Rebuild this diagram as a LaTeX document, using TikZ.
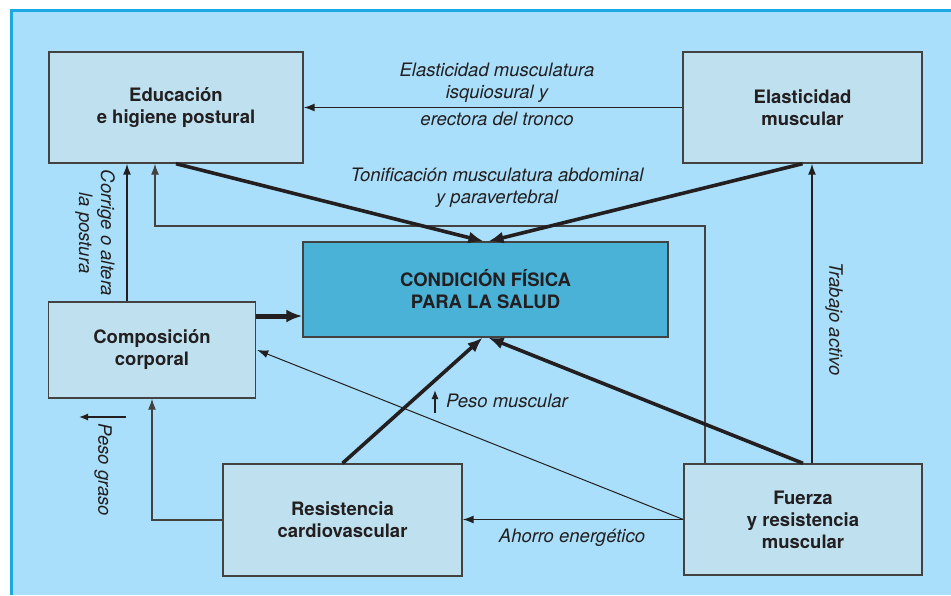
\documentclass[tikz,border=0pt]{standalone}
\usepackage{fontspec}
\setmainfont{TeX Gyre Heros}
\usetikzlibrary{arrows.meta, positioning, calc}
\definecolor{fondo}{HTML}{A9DFFA}
\definecolor{marco}{HTML}{1CA9E3}
\definecolor{cajafill}{HTML}{BEE0EF}
\definecolor{centrofill}{HTML}{4AB1D7}
\definecolor{tinta}{HTML}{231F20}

\begin{document}
\begin{tikzpicture}[x=1pt, y=-1pt,
    every node/.style={font=\fontsize{18.5}{22}\selectfont, text=tinta},
    caja/.style={rectangle, draw=tinta!85, line width=1.4pt, fill=cajafill, align=center,
        inner sep=0pt, font=\fontsize{18.5}{22}\selectfont\bfseries},
    etiq/.style={font=\fontsize{18.5}{22}\selectfont\itshape, align=center, inner sep=0pt},
    fina/.style={draw=tinta, line width=1.5pt, -{Latex[length=11pt,width=8pt]}},
    gruesa/.style={draw=tinta, line width=3.6pt, -{Latex[length=15pt,width=12pt]}},
    linea/.style={draw=tinta!85, line width=1.3pt}]
    \useasboundingbox (0,0) rectangle (951,595);
    % 背景和边框
    \fill[fondo] (12,10) rectangle (951,595);
    \draw[marco, line width=3pt] (11.5,595) -- (11.5,10.5) -- (951,10.5);

    % 六个框框
    \node[caja, minimum width=254pt, minimum height=111pt] (edu) at (176,107.5) {Educación\\e higiene postural};
    \node[caja, minimum width=239pt, minimum height=111pt] (elas) at (802.5,107.5) {Elasticidad\\muscular};
    \node[caja, fill=centrofill, minimum width=365pt, minimum height=95pt] (cond) at (485.5,289.5) {CONDICIÓN FÍSICA\\PARA LA SALUD};
    \node[caja, minimum width=207pt, minimum height=96pt] (comp) at (152,350) {Composición\\corporal};
    \node[caja, minimum width=239pt, minimum height=112pt] (resi) at (342.5,520) {Resistencia\\cardiovascular};
    \node[caja, minimum width=238pt, minimum height=111pt] (fuer) at (803,519.5) {Fuerza\\y resistencia\\muscular};

    % 细箭头
    \draw[fina] (elas.west) -- (edu.east);
    \draw[fina] ([xshift=-25pt]comp.north) -- ([xshift=-25pt]comp.north |- edu.south);
    \draw[fina] ([xshift=9pt]fuer.north) -- ([xshift=9pt]fuer.north |- elas.south);
    \draw[fina] (fuer.west) -- (fuer.west -| resi.east);
    \draw[fina, line width=1pt] (fuer.west) -- ([xshift=1pt]comp.east);
    \draw[fina, linea] (resi.west) -| (comp.south);
    \coordinate (lazo) at (155,226);
    \draw[fina, linea] ([xshift=-98pt]fuer.north) |- (lazo) -- (lazo |- edu.south);

    % 粗箭头
    \draw[gruesa] (edu.south) -- ([xshift=-2pt]cond.north);
    \draw[gruesa] (elas.south) -- ([xshift=3pt]cond.north);
    \draw[gruesa] (resi.north) -- ([xshift=-3pt]cond.south);
    \draw[gruesa] (fuer.north) -- ([xshift=3pt]cond.south);
    \draw[gruesa, line width=5pt, -{Latex[length=16pt,width=13pt]}] ([yshift=34pt]comp.east) -- ([yshift=34pt]comp.east -| cond.west);

    % 标注
    \node[etiq] (l1) at (497,83) {Elasticidad musculatura\\isquiosural y};
    \node[etiq] (l2) at (497,119) {erectora del tronco};
    \node[etiq] (l3) at (497,188) {Tonificación musculatura abdominal\\y paravertebral};
    \node[etiq, rotate=-90] (l4) at (95,233) {Corrige o altera\\la postura};
    \node[etiq, rotate=-90] (l5) at (834,319) {Trabajo activo};
    \node[etiq] (l6) at (572,538) {Ahorro energético};
    \node[etiq, rotate=-90] (l7) at (103,470) {Peso graso};
    \node[etiq, anchor=west] (l8) at (446,401) {Peso muscular};

    % 小箭头
    \coordinate (g1) at (126,417);
    \coordinate (g2) at (79,417);
    \draw[fina, line width=1.3pt, -{Latex[length=9pt,width=7pt]}] (g1) -- (g2);
    \coordinate (m1) at (435,413);
    \coordinate (m2) at (435,390);
    \draw[fina, line width=1.3pt, -{Latex[length=9pt,width=7pt]}] (m1) -- (m2);
\end{tikzpicture}
\end{document}
